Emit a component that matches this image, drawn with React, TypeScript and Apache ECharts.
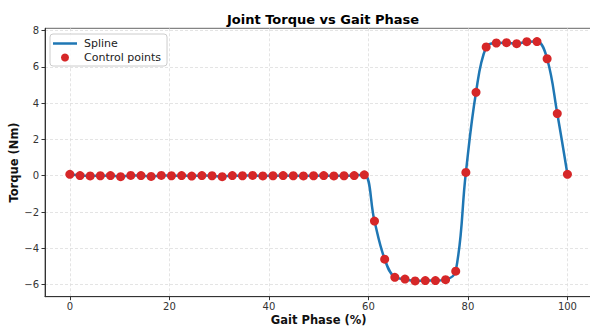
import { useEffect, useRef } from "react";
import * as echarts from "echarts";

// Gait phase (%) of each control point and the joint torque (Nm) there
const phase = [
  0, 2.04, 4.08, 6.12, 8.16, 10.2, 12.24, 14.29, 16.33, 18.37, 20.41, 22.45,
  24.49, 26.53, 28.57, 30.61, 32.65, 34.69, 36.73, 38.78, 40.82, 42.86, 44.9,
  46.94, 48.98, 51.02, 53.06, 55.1, 57.14, 59.18, 61.22, 63.27, 65.31, 67.35,
  69.39, 71.43, 73.47, 75.51, 77.55, 79.59, 81.63, 83.67, 85.71, 87.76, 89.8,
  91.84, 93.88, 95.92, 97.96, 100,
];
const torque = [
  0.08, 0.01, -0.01, 0.0, 0.01, -0.05, 0.02, 0.01, -0.04, 0.02, 0.0, 0.01,
  -0.02, 0.01, 0.0, -0.05, 0.01, 0.0, 0.02, -0.01, 0.0, 0.01, 0.0, -0.01, 0.0,
  0.01, -0.01, 0.0, 0.01, 0.05, -2.5, -4.6, -5.6, -5.7, -5.8, -5.78, -5.78,
  -5.73, -5.26, 0.18, 4.6, 7.1, 7.32, 7.34, 7.28, 7.39, 7.4, 6.45, 3.43, 0.08,
];

const xTicks = [0, 20, 40, 60, 80, 100];
const yTicks = [-6, -4, -2, 0, 2, 4, 6, 8];

const FONT = "DejaVu Sans";

export default function App() {
  const ref = useRef<HTMLDivElement>(null);

  useEffect(() => {
    if (!ref.current) return;
    const chart = echarts.init(ref.current, null, { renderer: "svg" });
    const points = phase.map((x, i) => [x, torque[i]]);

    chart.setOption({
      animation: false,
      backgroundColor: "#ffffff",
      textStyle: { fontFamily: FONT },
      title: {
        text: "Joint Torque vs Gait Phase",
        left: 318,
        textAlign: "center",
        top: 8,
        textStyle: { fontFamily: FONT, fontSize: 13, fontWeight: "bold", color: "#000" },
      },
      grid: {
        left: 45,
        right: -2.3,
        top: 28.3,
        bottom: 31.3,
        containLabel: false,
        outerBoundsMode: "none",
        show: true,
        borderColor: "#666",
        borderWidth: 1,
        backgroundColor: "transparent",
      },
      legend: {
        orient: "vertical",
        left: 50,
        top: 34,
        padding: [4, 6, 3, 3],
        itemGap: 3,
        itemWidth: 24,
        itemHeight: 8,
        backgroundColor: "rgba(255,255,255,0.85)",
        borderColor: "#cccccc",
        borderWidth: 1,
        borderRadius: 3,
        textStyle: { fontFamily: FONT, fontSize: 11, color: "#222", padding: [0, 0, 0, 2] },
        data: [
          { name: "Spline", icon: "path://M0 0H24V2.5H0Z" },
          { name: "Control points", icon: "circle" },
        ],
      },
      xAxis: {
        type: "value",
        min: -5,
        max: 105,
        name: "Gait Phase (%)",
        nameLocation: "middle",
        nameGap: 17,
        nameMoveOverlap: false,
        nameTextStyle: { fontFamily: FONT, fontSize: 11.5, fontWeight: "bold", color: "#111" },
        axisLine: { show: true, onZero: false, lineStyle: { color: "#333", width: 1 } },
        axisTick: { show: true, length: 3.5, lineStyle: { color: "#333" }, customValues: xTicks },
        axisLabel: {
          fontFamily: FONT,
          fontSize: 10,
          color: "#333",
          margin: 5,
          customValues: xTicks,
        },
        splitLine: {
          show: true,
          lineStyle: { color: "#dddddd", type: [3, 2], width: 0.8 },
        },
      },
      yAxis: {
        type: "value",
        min: -6.67,
        max: 8.13,
        name: "Torque (Nm)",
        nameLocation: "middle",
        nameGap: 25,
        nameMoveOverlap: false,
        nameTextStyle: { fontFamily: FONT, fontSize: 11.5, fontWeight: "bold", color: "#111" },
        axisLine: { show: true, onZero: false, lineStyle: { color: "#333", width: 1 } },
        axisTick: { show: true, length: 3.5, lineStyle: { color: "#333" }, customValues: yTicks },
        axisLabel: {
          fontFamily: FONT,
          fontSize: 10,
          color: "#333",
          margin: 6,
          customValues: yTicks,
          formatter: (v: number) => (v < 0 ? "\u2212" + Math.abs(v) : String(v)),
        },
        splitLine: {
          show: true,
          lineStyle: { color: "#dddddd", type: [3, 2], width: 0.8 },
        },
      },
      series: [
        {
          name: "Spline",
          type: "line",
          data: points,
          smooth: 0.4,
          showSymbol: false,
          color: "#1f77b4",
          lineStyle: { color: "#1f77b4", width: 2.5 },
          z: 2,
        },
        {
          name: "Control points",
          type: "scatter",
          data: points,
          symbolSize: 9,
          color: "#d62728",
          itemStyle: { color: "#d62728", opacity: 1 },
          z: 3,
        },
      ],
    });

    return () => chart.dispose();
  }, []);

  return (
    <div
      ref={ref}
      style={{ position: "fixed", left: 0, top: 0, width: 590, height: 328 }}
    />
  );
}
